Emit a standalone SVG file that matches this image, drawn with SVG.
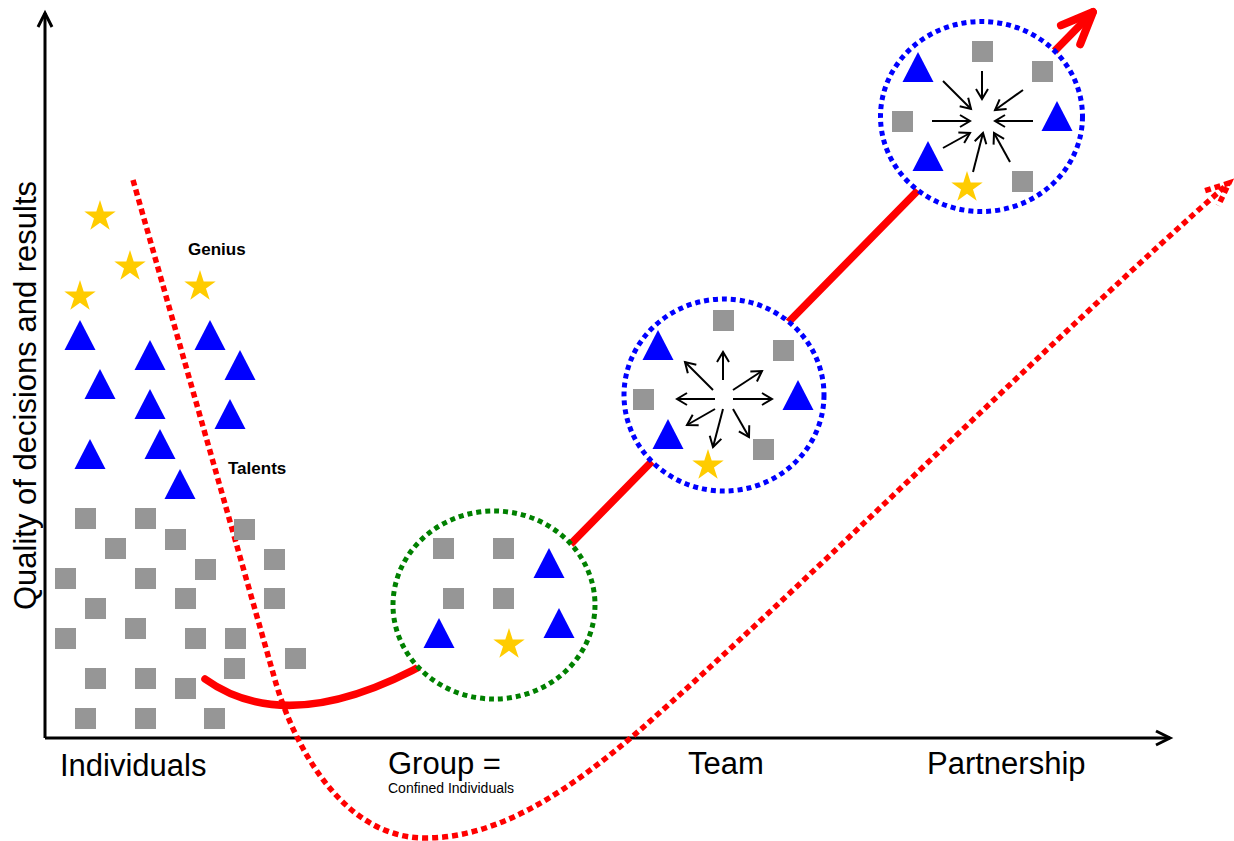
<svg xmlns="http://www.w3.org/2000/svg" xmlns:xlink="http://www.w3.org/1999/xlink" width="1234" height="841" viewBox="0 0 1234 841">
  <style>
    .lbl { font-family: "Liberation Sans", Arial, sans-serif; fill: #000; }
    .axis-lbl { font-size: 31px; }
    .small-lbl { font-size: 14px; }
    .tag { font-size: 17px; font-weight: bold; }
    .axis { stroke: #000; stroke-width: 3; fill: none; }
    .sq { fill: #969696; }
    .tri { fill: #0000ff; }
    .star { fill: #ffcc00; }
    .ring { fill: #fff; stroke-width: 5; stroke-dasharray: 5 4; }
    .ring-green { stroke: #008000; }
    .ring-blue { stroke: #0000ff; }
    .flow { stroke: #000; stroke-width: 2; fill: none; marker-end: url(#tip-small); }
    .path-solid { stroke: #ff0000; stroke-width: 7.5; fill: none; stroke-linecap: round; }
    .path-dotted { stroke: #ff0000; stroke-width: 5.5; fill: none; stroke-dasharray: 6 4; }
  </style>
  <defs>
    <rect id="square" class="sq" width="21" height="21"/>
    <path id="triangle" class="tri" d="M0,0 L15.5,30 L-15.5,30 Z"/>
    <path id="star" class="star" d="M0,-16.5 L3.7,-5.1 L15.69,-5.1 L5.99,1.95 L9.7,13.35 L0,6.3 L-9.7,13.35 L-5.99,1.95 L-15.69,-5.1 L-3.7,-5.1 Z"/>
    <marker id="tip-axis" markerUnits="userSpaceOnUse" viewBox="-18 -10 22 20" markerWidth="22" markerHeight="20" refX="0" refY="0" orient="auto" overflow="visible">
      <path d="M-14,-7 L0,0 L-14,7" fill="none" stroke="#000" stroke-width="3" stroke-linejoin="miter"/>
    </marker>
    <marker id="tip-small" markerUnits="userSpaceOnUse" viewBox="-12 -8 14 16" markerWidth="14" markerHeight="16" refX="0" refY="0" orient="auto" overflow="visible">
      <path d="M-10,-6 L0,0 L-10,6" fill="none" stroke="#000" stroke-width="2"/>
    </marker>
    <marker id="tip-red" markerUnits="userSpaceOnUse" viewBox="-40 -20 46 40" markerWidth="46" markerHeight="40" refX="0" refY="0" orient="auto" overflow="visible">
      <path d="M-32,-13.5 L0,0 L-32,13.5" fill="none" stroke="#ff0000" stroke-width="8" stroke-linecap="round" stroke-linejoin="round"/>
    </marker>
    <marker id="tip-red-dotted" markerUnits="userSpaceOnUse" viewBox="-30 -16 34 32" markerWidth="34" markerHeight="32" refX="0" refY="0" orient="auto" overflow="visible">
      <path d="M-23,-10 L0,0 L-23,10" fill="none" stroke="#ff0000" stroke-width="5.5" stroke-dasharray="6 4"/>
    </marker>
  </defs>

  <rect width="1234" height="841" fill="#fff"/>

  <!-- axes and axis captions -->
  <g id="axes">
    <path class="axis" d="M45,738 L45,13" marker-end="url(#tip-axis)"/>
    <path class="axis" d="M45,738 L1170,738" marker-end="url(#tip-axis)"/>
    <text class="lbl axis-lbl" transform="translate(36,610) rotate(-90)">Quality of decisions and results</text>
    <text class="lbl axis-lbl" x="60" y="776">Individuals</text>
    <text class="lbl axis-lbl" x="388" y="774">Group =</text>
    <text class="lbl small-lbl" x="388" y="793">Confined Individuals</text>
    <text class="lbl axis-lbl" x="688" y="774">Team</text>
    <text class="lbl axis-lbl" x="927" y="774">Partnership</text>
  </g>

  <!-- connectors -->
  <g id="connectors">
    <path id="edge-potential" class="path-dotted" d="M133,180 L275,680 C292,740 340,838 425,838 C500,838 570,790 640,730 C800,590 1050,340 1229,183" marker-end="url(#tip-red-dotted)"/>
    <path id="edge-growth" class="path-solid" d="M205,679 Q290,740 432,660 L560,555 L1093,12" marker-end="url(#tip-red)"/>
  </g>

  <!-- individuals: scattered people -->
  <g id="individuals">
    <use href="#star" x="100" y="216.5"/>
    <use href="#star" x="130" y="266.5"/>
    <use href="#star" x="80" y="296.5"/>
    <use href="#star" x="200" y="286.5"/>
    <use href="#triangle" x="80" y="320"/>
    <use href="#triangle" x="150" y="340"/>
    <use href="#triangle" x="100" y="369"/>
    <use href="#triangle" x="150" y="389"/>
    <use href="#triangle" x="90" y="439"/>
    <use href="#triangle" x="160" y="429"/>
    <use href="#triangle" x="180" y="469"/>
    <use href="#triangle" x="210" y="320"/>
    <use href="#triangle" x="240" y="350"/>
    <use href="#triangle" x="230" y="399"/>
    <use href="#square" x="75" y="508"/>
    <use href="#square" x="135" y="508"/>
    <use href="#square" x="234" y="519"/>
    <use href="#square" x="105" y="538"/>
    <use href="#square" x="165" y="529"/>
    <use href="#square" x="264" y="549"/>
    <use href="#square" x="195" y="559"/>
    <use href="#square" x="55" y="568"/>
    <use href="#square" x="135" y="568"/>
    <use href="#square" x="175" y="588"/>
    <use href="#square" x="264" y="588"/>
    <use href="#square" x="85" y="598"/>
    <use href="#square" x="125" y="618"/>
    <use href="#square" x="55" y="628"/>
    <use href="#square" x="185" y="628"/>
    <use href="#square" x="225" y="628"/>
    <use href="#square" x="285" y="648"/>
    <use href="#square" x="224" y="658"/>
    <use href="#square" x="85" y="668"/>
    <use href="#square" x="135" y="668"/>
    <use href="#square" x="175" y="678"/>
    <use href="#square" x="75" y="708"/>
    <use href="#square" x="135" y="708"/>
    <use href="#square" x="204" y="708"/>
  </g>

  <!-- captions for the two top tiers -->
  <g id="labels">
    <text class="lbl tag" x="188" y="255">Genius</text>
    <text class="lbl tag" x="228" y="474">Talents</text>
  </g>

  <!-- group -->
  <g id="group">
    <ellipse class="ring ring-green" cx="494" cy="605" rx="101" ry="94"/>
    <use href="#square" x="433" y="538"/>
    <use href="#square" x="493" y="538"/>
    <use href="#square" x="443" y="588"/>
    <use href="#square" x="493" y="588"/>
    <use href="#triangle" x="549" y="548"/>
    <use href="#triangle" x="559" y="608"/>
    <use href="#triangle" x="439" y="618"/>
    <use href="#star" x="509" y="644.5"/>
  </g>

  <!-- team -->
  <g id="team">
    <ellipse class="ring ring-blue" cx="724" cy="395" rx="100" ry="96"/>
    <use href="#square" x="713" y="310"/>
    <use href="#square" x="773" y="340"/>
    <use href="#square" x="633" y="389"/>
    <use href="#square" x="753" y="439"/>
    <use href="#triangle" x="658" y="330"/>
    <use href="#triangle" x="798" y="380"/>
    <use href="#triangle" x="668" y="419"/>
    <use href="#star" x="708" y="465.5"/>
    <path class="flow" d="M715,399 L677,399"/>
    <path class="flow" d="M733,399 L772,399"/>
    <path class="flow" d="M723,380 L723,352"/>
    <path class="flow" d="M713,390 L685,362"/>
    <path class="flow" d="M733,390 L762,371"/>
    <path class="flow" d="M715,409 L687,425"/>
    <path class="flow" d="M723,409 L713,447"/>
    <path class="flow" d="M733,409 L749,437"/>
  </g>

  <!-- partnership -->
  <g id="partnership">
    <ellipse class="ring ring-blue" cx="981.5" cy="116.5" rx="101" ry="95"/>
    <use href="#square" x="972" y="41"/>
    <use href="#square" x="1032" y="61"/>
    <use href="#square" x="892" y="111"/>
    <use href="#square" x="1012" y="171"/>
    <use href="#triangle" x="918" y="52"/>
    <use href="#triangle" x="1057" y="101"/>
    <use href="#triangle" x="928" y="141"/>
    <use href="#star" x="967" y="187.5"/>
    <path class="flow" d="M982,71 L982,99"/>
    <path class="flow" d="M943,81 L971,109"/>
    <path class="flow" d="M1023,90 L995,110"/>
    <path class="flow" d="M932,121 L970,121"/>
    <path class="flow" d="M1033,121 L995,121"/>
    <path class="flow" d="M943,148 L970,133"/>
    <path class="flow" d="M973,172 L983,133"/>
    <path class="flow" d="M1010,162 L994,133"/>
  </g>
</svg>
